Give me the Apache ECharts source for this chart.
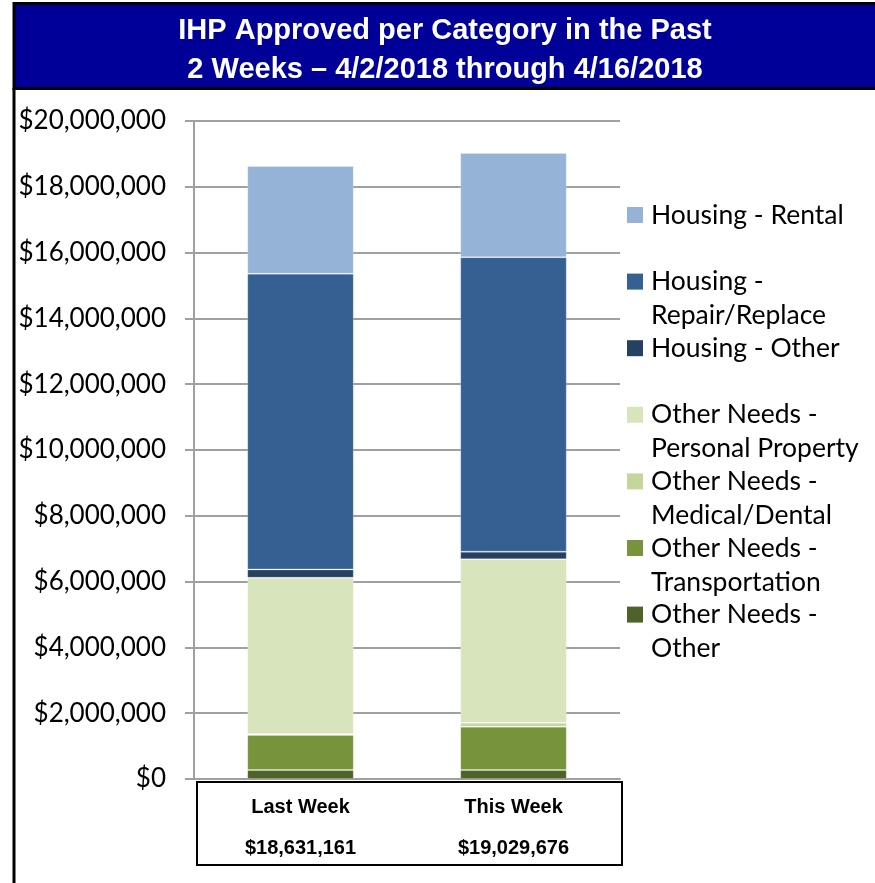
<!DOCTYPE html>
<html>
<head>
<meta charset="utf-8">
<script src="https://cdn.jsdelivr.net/npm/echarts@6/dist/echarts.min.js"></script>
<style>
  html, body { margin: 0; padding: 0; background: #fff; }
  #chart { width: 875px; height: 883px; }
</style>
</head>
<body>
<div id="chart"></div>
<script>
// categories and totals shown in the box under the bars
const categories = ['Last Week', 'This Week'];
const totals = ['$18,631,161', '$19,029,676'];

// stacked segments, bottom to top
const otherNeedsOther = [270000, 270000];
const transportation = [1070000, 1320000];
const medicalDental = [30000, 120000];
const personalProperty = [4750000, 4970000];
const housingOther = [250000, 230000];
const repairReplace = [8990000, 8950000];
const rental = [3271161, 3169676];

const yTicks = {min: 0, max: 20000000, interval: 2000000};

const seriesDefs = [
  {name: 'Other Needs - Other', data: otherNeedsOther, color: '#4f6228', label: 'Other Needs -\nOther'},
  {name: 'Other Needs - Transportation', data: transportation, color: '#77933c', label: 'Other Needs -\nTransportation'},
  {name: 'Other Needs - Medical/Dental', data: medicalDental, color: '#c4d79b', label: 'Other Needs -\nMedical/Dental'},
  {name: 'Other Needs - Personal Property', data: personalProperty, color: '#d8e4bc', label: 'Other Needs -\nPersonal Property'},
  {name: 'Housing - Other', data: housingOther, color: '#254061', label: 'Housing - Other\n '},
  {name: 'Housing - Repair/Replace', data: repairReplace, color: '#366092', label: 'Housing -\nRepair/Replace'},
  {name: 'Housing - Rental', data: rental, color: '#95b3d7', label: 'Housing - Rental\n '}
];

const labelByName = {};
seriesDefs.forEach(s => { labelByName[s.name] = s.label; });

const chart = echarts.init(document.getElementById('chart'));
const bodyFont = 'Lato, "Noto Sans", sans-serif';
const boldFont = '"Liberation Sans", Arial, sans-serif';

const option = {
  backgroundColor: '#fff',
  animation: false,
  title: {
    text: 'IHP Approved per Category in the Past\n2 Weeks \u2013 4/2/2018 through 4/16/2018',
    left: 445,
    top: 12,
    padding: 0,
    textAlign: 'center',
    textStyle: {
      color: '#fff',
      fontFamily: boldFont,
      fontWeight: 'bold',
      fontSize: 29,
      lineHeight: 38.5
    }
  },
  graphic: [
    {type: 'rect', z: -1, shape: {x: 14, y: 3.5, width: 870, height: 85}, style: {fill: '#000099', stroke: '#000', lineWidth: 3}},
    {type: 'line', shape: {x1: 14, y1: 88, x2: 14, y2: 883}, style: {stroke: '#000', lineWidth: 3}},
    {type: 'rect', shape: {x: 197, y: 782, width: 425, height: 83}, style: {fill: 'none', stroke: '#000', lineWidth: 2}}
  ],
  legend: {
    orient: 'vertical',
    left: 627,
    top: 198,
    padding: 0,
    itemGap: -1.4,
    itemWidth: 16,
    itemHeight: 68,
    icon: 'path://M0 0M16 68M0 9L16 9L16 25L0 25Z',
    itemStyle: {borderWidth: 0},
    data: seriesDefs.map(s => s.name).reverse(),
    formatter: name => labelByName[name],
    textStyle: {
      fontFamily: bodyFont,
      fontSize: 26.5,
      lineHeight: 34,
      color: '#000',
      padding: [0, 0, 0, 3]
    }
  },
  grid: {left: 194, right: 255, top: 121, bottom: 104},
  xAxis: {
    type: 'category',
    data: categories,
    axisLine: {lineStyle: {color: '#a0a0a0', width: 2}},
    axisTick: {show: false},
    axisLabel: {
      margin: 8,
      formatter: (value, idx) => '{n|' + value + '}\n{v|' + totals[idx] + '}',
      rich: {
        n: {fontFamily: boldFont, fontWeight: 'bold', fontSize: 20, lineHeight: 41, color: '#000'},
        v: {fontFamily: boldFont, fontWeight: 'bold', fontSize: 20, lineHeight: 41, color: '#000'}
      }
    }
  },
  yAxis: {
    type: 'value',
    min: yTicks.min,
    max: yTicks.max,
    interval: yTicks.interval,
    axisLine: {show: true, lineStyle: {color: '#a0a0a0', width: 2}},
    axisTick: {show: true, length: 9, lineStyle: {color: '#a0a0a0', width: 2}},
    splitLine: {lineStyle: {color: '#a0a0a0', width: 2}},
    axisLabel: {
      margin: 28,
      fontFamily: bodyFont,
      fontSize: 26,
      color: '#000',
      formatter: v => '$' + v.toLocaleString('en-US')
    }
  },
  series: seriesDefs.map(s => ({
    name: s.name,
    type: 'bar',
    stack: 'total',
    barWidth: '50%',
    data: s.data,
    itemStyle: {color: s.color, borderColor: 'rgba(255,255,255,0.2)', borderWidth: 1}
  }))
};

chart.setOption(option);
</script>
</body>
</html>
